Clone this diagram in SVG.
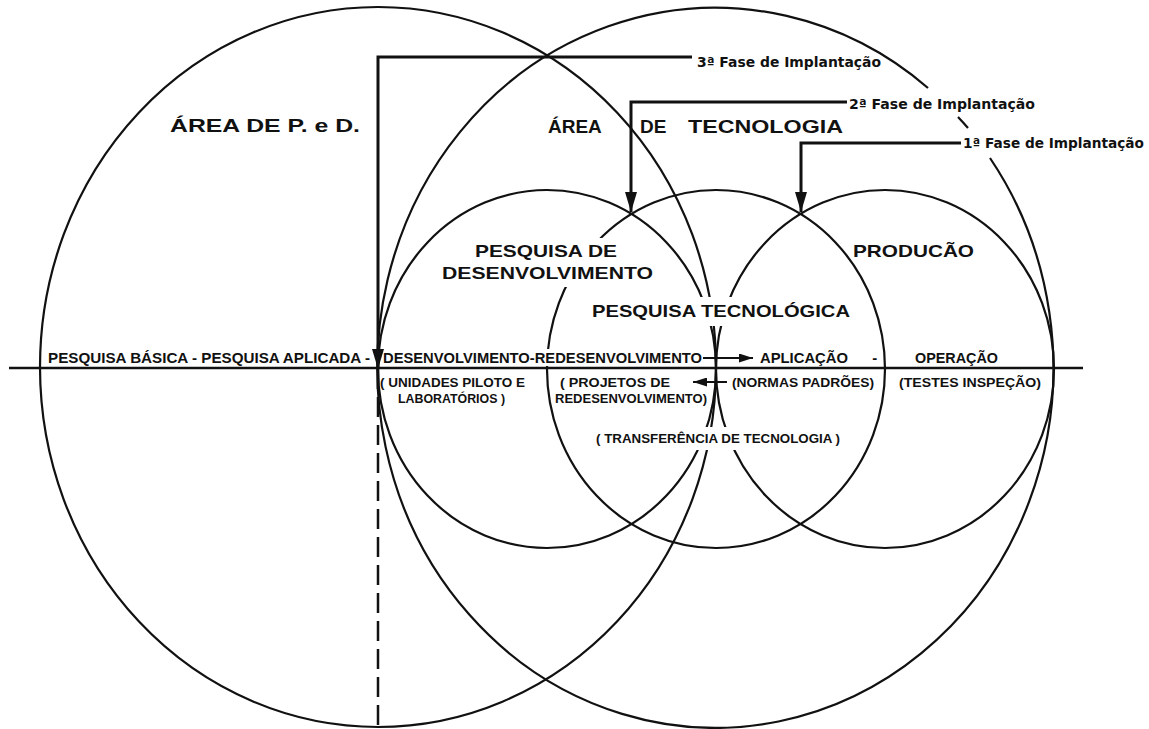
<svg xmlns="http://www.w3.org/2000/svg" width="1149" height="729" viewBox="0 0 1149 729">
<style>
.c{fill:none;stroke:#111;stroke-width:2.2}
.k{fill:#fff;stroke:none}
.a{fill:none;stroke:#111;stroke-width:3}
.t{font-family:"Liberation Sans",Arial,sans-serif;font-weight:bold;fill:#111}
.h{font-size:19px}
.m{font-size:17px}
.r{font-size:15px}
.s{font-size:13px}
.f{font-family:"DejaVu Sans","Liberation Sans",sans-serif;font-weight:bold;font-size:14px;fill:#111}
</style>
<defs>
<marker id="ad" markerUnits="userSpaceOnUse" viewBox="0 0 20 12" refX="20" refY="6" markerWidth="20" markerHeight="12" orient="auto"><path d="M0,0 L20,6 L0,12 z" fill="#111"/></marker>
<marker id="as" markerUnits="userSpaceOnUse" viewBox="0 0 14 9" refX="14" refY="4.5" markerWidth="14" markerHeight="9" orient="auto"><path d="M0,0 L14,4.5 L0,9 z" fill="#111"/></marker>
</defs>
<rect width="1149" height="729" fill="#fff"/>
<g id="area-ped"><ellipse class="c" cx="378" cy="367" rx="338" ry="360"/></g>
<g id="area-tecnologia"><path class="c" d="M928,88 A338,360 0 1 0 990,158"/><path class="c" d="M958,117 A338,360 0 0 1 968,128"/></g>
<g id="pesquisa-desenvolvimento"><ellipse class="c" cx="547" cy="369" rx="169" ry="179"/></g>
<g id="pesquisa-tecnologica"><ellipse class="c" cx="716" cy="369" rx="169" ry="179"/></g>
<g id="producao"><ellipse class="c" cx="885" cy="369" rx="169" ry="179"/></g>
<g id="knockouts">
<rect class="k" x="470" y="238" width="152" height="24"/>
<rect class="k" x="437" y="262" width="221" height="25"/>
<rect class="k" x="588" y="297" width="266" height="29"/>
<rect class="k" x="382" y="349" width="322" height="17"/>
<rect class="k" x="593" y="427" width="250" height="23"/>
</g>
<g id="connectors">
<path d="M9,368 H1083" fill="none" stroke="#111" stroke-width="2.5"/>
<path class="a" d="M692,57 H378 V369" marker-end="url(#ad)"/>
<path d="M378,369 V727" fill="none" stroke="#111" stroke-width="2.5" stroke-dasharray="20 8"/>
<path class="a" d="M847,102 H631 V212" marker-end="url(#ad)"/>
<path class="a" d="M961,143 H801 V212" marker-end="url(#ad)"/>
<path d="M703,358 H753" fill="none" stroke="#111" stroke-width="2" marker-end="url(#as)"/>
<path d="M727,382 H693" fill="none" stroke="#111" stroke-width="2" marker-end="url(#as)"/>
</g>
<g id="labels">
<text class="t h" x="170" y="132" textLength="190" lengthAdjust="spacingAndGlyphs">ÁREA DE P. e D.</text>
<text class="t h" y="133"><tspan x="548">ÁREA </tspan><tspan x="640">DE </tspan><tspan x="688" textLength="155" lengthAdjust="spacingAndGlyphs">TECNOLOGIA</tspan></text>
<text class="f" x="697" y="67" textLength="184" lengthAdjust="spacingAndGlyphs">3ª Fase de Implantação</text>
<text class="f" x="849" y="109" textLength="186" lengthAdjust="spacingAndGlyphs">2ª Fase de Implantação</text>
<text class="f" x="963" y="148" textLength="181" lengthAdjust="spacingAndGlyphs">1ª Fase de Implantação</text>
<text class="t m" x="475" y="257" textLength="142" lengthAdjust="spacingAndGlyphs">PESQUISA DE</text>
<text class="t m" x="442" y="279" textLength="211" lengthAdjust="spacingAndGlyphs">DESENVOLVIMENTO</text>
<text class="t m" x="853" y="257" textLength="121" lengthAdjust="spacingAndGlyphs">PRODUCÃO</text>
<text class="t m" x="592" y="317" textLength="258" lengthAdjust="spacingAndGlyphs">PESQUISA TECNOLÓGICA</text>
<text class="t r" x="48" y="363" textLength="322" lengthAdjust="spacingAndGlyphs">PESQUISA BÁSICA - PESQUISA APLICADA -</text>
<text class="t r" x="383" y="363" textLength="319" lengthAdjust="spacingAndGlyphs">DESENVOLVIMENTO-REDESENVOLVIMENTO</text>
<text class="t r" y="363"><tspan x="760" textLength="88" lengthAdjust="spacingAndGlyphs">APLICAÇÃO</tspan><tspan x="868"> -</tspan></text>
<text class="t r" x="915" y="363" textLength="83" lengthAdjust="spacingAndGlyphs">OPERAÇÃO</text>
<text class="t s" x="380" y="387" textLength="145" lengthAdjust="spacingAndGlyphs">( UNIDADES PILOTO E</text>
<text class="t s" x="398" y="403" textLength="107" lengthAdjust="spacingAndGlyphs">LABORATÓRIOS )</text>
<text class="t s" x="560" y="387" textLength="110" lengthAdjust="spacingAndGlyphs">( PROJETOS DE</text>
<text class="t s" x="555" y="403" textLength="152" lengthAdjust="spacingAndGlyphs">REDESENVOLVIMENTO)</text>
<text class="t s" x="732" y="387" textLength="142" lengthAdjust="spacingAndGlyphs">(NORMAS PADRÕES)</text>
<text class="t s" x="899" y="387" textLength="142" lengthAdjust="spacingAndGlyphs">(TESTES INSPEÇÃO)</text>
<text class="t s" x="596" y="443" textLength="244" lengthAdjust="spacingAndGlyphs">( TRANSFERÊNCIA DE TECNOLOGIA )</text>
</g>
</svg>
